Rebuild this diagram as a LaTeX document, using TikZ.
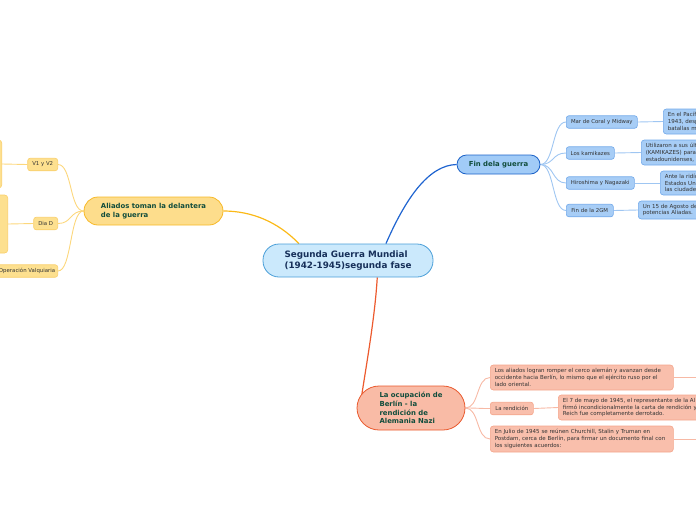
\documentclass[tikz,border=0pt]{standalone}
\usepackage{fontspec}
\setmainfont{DejaVu Sans}
\usetikzlibrary{calc,backgrounds}
\definecolor{mainF}{HTML}{CBE9FC}
\definecolor{mainB}{HTML}{4A9FD8}
\definecolor{mainT}{HTML}{17305A}
\definecolor{grT}{HTML}{114D3C}
\definecolor{subT}{HTML}{333333}
\definecolor{yLine}{HTML}{FBB917}
\definecolor{yBigF}{HTML}{FDDD8C}
\definecolor{yBigB}{HTML}{F7B928}
\definecolor{ySubF}{HTML}{FDE08F}
\definecolor{ySubB}{HTML}{F9CF6A}
\definecolor{ySubL}{HTML}{FCD77C}
\definecolor{bLine}{HTML}{1F64D0}
\definecolor{bBigF}{HTML}{A1CBF7}
\definecolor{bBigB}{HTML}{1D63C8}
\definecolor{bSubF}{HTML}{A7CDF6}
\definecolor{bSubB}{HTML}{72A9EA}
\definecolor{bSubL}{HTML}{9FC6F2}
\definecolor{rLine}{HTML}{EC5A2E}
\definecolor{rBigF}{HTML}{F9BBA6}
\definecolor{rBigB}{HTML}{E9592D}
\definecolor{rSubF}{HTML}{F9BFAC}
\definecolor{rSubB}{HTML}{F4A58B}
\definecolor{rSubL}{HTML}{F7B9A5}
\tikzset{
  mainbox/.style={rectangle, rounded corners=16pt, draw=mainB, fill=mainF, line width=0.8pt,
    minimum width=170pt, minimum height=33pt, align=left, text=mainT, inner sep=0pt,
    font=\fontsize{8.8}{10.7}\selectfont\bfseries},
  bigbox/.style={rectangle, line width=0.8pt, align=left, text=grT, inner sep=0pt,
    font=\fontsize{6.9}{8.8}\selectfont\bfseries},
  subbox/.style={rectangle, rounded corners=2.5pt, line width=0.6pt, text=subT, inner xsep=2.5pt,
    inner ysep=0pt, minimum height=12.5pt, font=\fontsize{5.4}{6.7}\selectfont},
  detbox/.style={rectangle, rounded corners=3pt, line width=0.6pt, text=subT, inner xsep=4.5pt,
    inner ysep=0pt, align=left, font=\fontsize{5.5}{6.7}\selectfont},
  ysub/.style={subbox, draw=ySubB, fill=ySubF},
  bsub/.style={subbox, draw=bSubB, fill=bSubF},
  rsub/.style={subbox, draw=rSubB, fill=rSubF},
  ydet/.style={detbox, draw=ySubB, fill=ySubF},
  bdet/.style={detbox, draw=bSubB, fill=bSubF},
  rdet/.style={detbox, draw=rSubB, fill=rSubF},
  ylink/.style={draw=ySubL, line width=0.9pt},
  blink/.style={draw=bSubL, line width=0.9pt},
  rlink/.style={draw=rSubL, line width=0.9pt},
}
\begin{document}
\begin{tikzpicture}[x=1pt,y=-1pt]
\useasboundingbox (0,0) rectangle (696,520);
% central topic
\node[mainbox] (main) at (348,260.5) {Segunda Guerra Mundial\\(1942-1945)segunda fase};
% main branches
\node[bigbox, rounded corners=14pt, draw=yBigB, fill=yBigF, minimum width=139pt, minimum height=28pt] (ali) at (153.5,211) {Aliados toman la delantera\\de la guerra};
\node[bigbox, rounded corners=9.5pt, draw=bBigB, fill=bBigF, minimum width=83pt, minimum height=19pt] (fin) at (498.5,164.5) {Fin dela guerra};
\node[bigbox, rounded corners=22pt, draw=rBigB, fill=rBigF, minimum width=108pt, minimum height=44pt] (ocup) at (411,408) {La ocupación de\\Berlín - la\\rendición de\\Alemania Nazi};
% blue subtopics
\node[bsub, anchor=west, minimum width=71pt] (mar) at (566,122) {Mar de Coral y Midway};
\node[bsub, anchor=west, minimum width=48pt] (kam) at (566,153) {Los kamikazes};
\node[bsub, anchor=west, minimum width=68pt] (hir) at (566,183) {Hiroshima y Nagazaki};
\node[bsub, anchor=west, minimum width=47pt] (fgm) at (566,210.5) {Fin de la 2GM};
\node[bdet, anchor=west, text width=60pt, minimum height=25pt] (dmar) at (663,121.5) {En el Pacíf\\1943, desp\\batallas m};
\node[bdet, anchor=west, text width=80pt, minimum height=25pt] (dkam) at (641,152.5) {Utilizaron a sus últ\\(KAMIKAZES) para\\estadounidenses, e};
\node[bdet, anchor=west, text width=60pt, minimum height=24pt] (dhir) at (660,183) {Ante la ridíc\\Estados Uni\\las ciudades};
\node[bdet, anchor=west, text width=80pt, minimum height=18pt] (dfgm) at (638,210) {Un 15 de Agosto de\\potencias Aliadas.};
% yellow subtopics
\node[ysub, anchor=east, minimum width=30pt] (v1) at (58,164.5) {V1 y V2};
\node[ysub, anchor=east, minimum width=24pt] (dd) at (58,223.5) {Dia D};
\node[ysub, anchor=east] (ov) at (58,271) {Operación Valquiaria};
\node[ydet, anchor=east, minimum width=60pt, minimum height=48pt] (lv1) at (2,164) {};
\node[ydet, anchor=east, minimum width=60pt, minimum height=58pt] (ldd) at (8,224) {};
% red subtopics
\node[rdet, anchor=west, text width=174pt, minimum height=25pt] (ra) at (490,377.5) {Los aliados logran romper el cerco alemán y avanzan desde\\occidente hacia Berlín, lo mismo que el ejército ruso por el\\lado oriental.};
\node[rsub, anchor=west, minimum width=43pt] (rend) at (490,408.5) {La rendición};
\node[rdet, anchor=west, text width=160pt, minimum height=25pt] (rb) at (558,407.5) {El 7 de mayo de 1945, el representante de la Al\\firmó incondicionalmente la carta de rendición y\\Reich fue completamente derrotado.};
\node[rdet, anchor=west, text width=174pt, minimum height=26pt] (rc) at (490,439) {En Julio de 1945 se reúnen Churchill, Stalin y Truman en\\Postdam, cerca de Berlín, para firmar un documento final con\\los siguientes acuerdos:};
\coordinate (raout) at (700,377.5);
\coordinate (rcout) at (700,439);
\begin{pgfonlayer}{background}
  \draw[draw=yLine, line width=1.2pt] (main.161) .. controls (278,222) and (252,211) .. (ali.east);
  \draw[draw=bLine, line width=1.2pt] (main.24) .. controls (405,200) and (428,165) .. (fin.west);
  \draw[draw=rLine, line width=1.2pt] (main.-30) .. controls (375,315) and (368,355) .. ($(ocup.west)+(5,-12)$);
  \foreach \n in {mar,kam,hir,fgm}{
    \draw[blink] (fin.east) .. controls +(14,0) and +(-14,0) .. (\n.west);
  }
  \draw[blink] (mar.east) -- (dmar.west);
  \draw[blink] (kam.east) -- (dkam.west);
  \draw[blink] (hir.east) -- (dhir.west);
  \draw[blink] (fgm.east) -- (dfgm.west);
  \foreach \n in {v1,dd,ov}{
    \draw[ylink] (ali.west) .. controls +(-14,0) and +(14,0) .. (\n.east);
  }
  \draw[ylink] (v1.west) -- (lv1.east);
  \draw[ylink] (dd.west) -- (ldd.east);
  \foreach \n in {ra,rend,rc}{
    \draw[rlink] (ocup.east) .. controls +(14,0) and +(-14,0) .. (\n.west);
  }
  \draw[rlink] (rend.east) -- (rb.west);
  \draw[rlink] (ra.east) -- (raout);
  \draw[rlink] (rc.east) -- (rcout);
\end{pgfonlayer}
\end{tikzpicture}
\end{document}
